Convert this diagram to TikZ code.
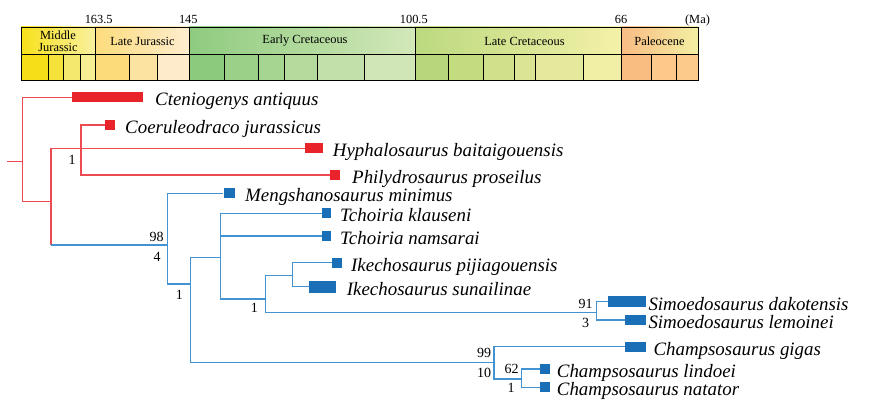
\documentclass[tikz,border=0pt]{standalone}
\usepackage{fontspec}
\setmainfont{Liberation Serif}
\usetikzlibrary{positioning}

\definecolor{cladered}{HTML}{E8232A}
\definecolor{branchred}{HTML}{EE4A52}
\definecolor{cladeblue}{HTML}{1B6FB6}
\definecolor{branchblue}{HTML}{4393D3}

\tikzset{
  redbr/.style={draw=branchred, line width=1.1pt},
  bluebr/.style={draw=branchblue, line width=1.1pt},
  rangebar/.style={rectangle, inner sep=0pt, anchor=west},
  taxon/.style={anchor=west, inner sep=0pt, font=\fontsize{18.9}{20}\selectfont\itshape,
    text height=17pt, text depth=0pt},
  supportval/.style={inner sep=0pt, font=\fontsize{14}{14}\selectfont},
  periodlabel/.style={inner sep=0pt, align=center, font=\fontsize{12.4}{12}\selectfont},
  agelabel/.style={inner sep=0pt, font=\fontsize{12.4}{12}\selectfont}
}

\begin{document}
\begin{tikzpicture}[x=1pt,y=-1pt]
\useasboundingbox (0,0) rectangle (878,409);

% time scale: stages
\foreach \a/\b/\c in {21/48.3/F7DF18, 48.3/63.3/F5E33C, 63.3/80.7/F5E86E, 80.7/95.7/F7EF94,
  95.7/129.3/FBDB7A, 129.3/157.7/FDE3A2, 157.7/189.3/FEEBCB,
  189.3/224.7/8CCA7E, 224.7/258.3/9AD088, 258.3/284/A6D491, 284/317.7/B4DA9E,
  317.7/364.3/C2E0AA, 364.3/415/D0E6B6,
  415/448.3/B8D77A, 448.3/483.3/C4DC80, 483.3/514.7/D0E08B, 514.7/535.3/DAE494,
  535.3/583.3/E5E99E, 583.3/621.3/F1EFA6,
  621.3/651.3/F9BD82, 651.3/676.7/FCC98A, 676.7/698.3/FCCB8C}{
  \definecolor{stagecol}{HTML}{\c}
  \fill[stagecol] (\a,54) rectangle (\b,80);
  \draw[line width=0.9pt] (\a,54) -- (\a,80);
}
% time scale: periods
\foreach \a/\b/\l/\r in {21/95.7/F8E11B/F9F0A0, 95.7/189.3/FCDC7C/FEEDCF,
  189.3/415/8ECB7F/D3E8B9, 415/621.3/BBD97F/F4F1A8, 621.3/698.3/F9BC84/F3EFA2}{
  \definecolor{lcol}{HTML}{\l}
  \definecolor{rcol}{HTML}{\r}
  \shade[left color=lcol, right color=rcol] (\a,27) rectangle (\b,54);
  \draw[line width=0.9pt] (\a,27) -- (\a,54);
}
\draw[line width=0.9pt] (21,27) rectangle (698.3,80);
\draw[line width=0.9pt] (21,54) -- (698.3,54);

\node[periodlabel] (mjur) at (58,41) {Middle\\Jurassic};
\node[periodlabel] (ljur) at (142.5,41) {Late Jurassic};
\node[periodlabel] (ecre) at (305,41) {Early Cretaceous};
\node[periodlabel] (lcre) at (524.5,41) {Late Cretaceous};
\node[periodlabel] (pale) at (659.5,41) {Paleocene};

\node[agelabel] (t1635) at (98.7,19) {163.5};
\node[agelabel] (t145) at (188.3,19) {145};
\node[agelabel] (t1005) at (413.8,19) {100.5};
\node[agelabel] (t66) at (621,19) {66};
\node[agelabel] (tma) at (697.5,21) {(Ma)};

% internal nodes
\coordinate (stub) at (7,161.7);
\coordinate (r0) at (22.7,161.7);
\coordinate (r1) at (51,201.7);
\coordinate (r2) at (81,148.5);
\coordinate (b0) at (167.3,245);
\coordinate (b1) at (190.7,284);
\coordinate (b2) at (220.7,257.3);
\coordinate (b3) at (265.3,299);
\coordinate (b4) at (292.3,275.7);
\coordinate (b5) at (494,362.3);
\coordinate (b6) at (596.7,312.7);
\coordinate (b7) at (521.7,379);

% ranges and taxa
\foreach \n/\a/\b/\y/\h/\c/\g/\t in {
  cten/71.7/143/97.3/10/cladered/12/Cteniogenys antiquus,
  coer/105/115/125/10/cladered/10/Coeruleodraco jurassicus,
  hyph/305/322.7/148.5/10/cladered/10/Hyphalosaurus baitaigouensis,
  phil/330/340/175/10/cladered/12/Philydrosaurus proseilus,
  meng/223.3/234.3/193.3/10/cladeblue/10.7/Mengshanosaurus minimus,
  tkla/321.7/330.7/213.3/10/cladeblue/9.3/Tchoiria klauseni,
  tnam/321.7/330.7/236/10/cladeblue/9.3/Tchoiria namsarai,
  ipij/331.7/341.7/262.7/10/cladeblue/9.3/Ikechosaurus pijiagouensis,
  isun/309/335.7/286.7/12/cladeblue/11/Ikechosaurus sunailinae,
  sdak/607.7/645.7/301.7/10.5/cladeblue/2.6/Simoedosaurus dakotensis,
  slem/625/645.7/320/10/cladeblue/2.6/Simoedosaurus lemoinei,
  cgig/625/645.7/346.7/10/cladeblue/7.6/Champsosaurus gigas,
  clin/540/550/369/10/cladeblue/6.7/Champsosaurus lindoei,
  cnat/540/550/387.3/10/cladeblue/6.7/Champsosaurus natator}{
  \pgfmathsetmacro\w{\b-\a}
  \node[rangebar, fill=\c, minimum width=\w pt, minimum height=\h pt] (\n) at (\a,\y) {};
  \node[taxon] (\n-l) at (\b+\g,\y) {\t};
}

% branches
\draw[redbr] (stub) -- (r0);
\draw[redbr] (r0) |- (cten.west);
\draw[redbr] (r0) |- (r1);
\draw[redbr] (r1) |- (r2) -- (hyph.west);
\draw[redbr] (r2) |- (coer.west);
\draw[redbr] (r2) |- (phil.west);
\draw[redbr] (r1) -- (r1 |- b0);
\draw[bluebr] (r1 |- b0) -- (b0);
\draw[bluebr] (b0) |- (meng.west);
\draw[bluebr] (b0) |- (b1);
\draw[bluebr] (b1) |- (b2);
\draw[bluebr] (b1) |- (b5);
\draw[bluebr] (b2) |- (tkla.west);
\draw[bluebr] (b2) |- (tnam.west);
\draw[bluebr] (b2) |- (b3);
\draw[bluebr] (b3) |- (b4);
\draw[bluebr] (b3) |- (b6);
\draw[bluebr] (b4) |- (ipij.west);
\draw[bluebr] (b4) |- (isun.west);
\draw[bluebr] (b6) |- (sdak.west);
\draw[bluebr] (b6) |- (slem.west);
\draw[bluebr] (b5) |- (cgig.west);
\draw[bluebr] (b5) |- (b7);
\draw[bluebr] (b7) |- (clin.west);
\draw[bluebr] (b7) |- (cnat.west);

% support values
\foreach \n/\x/\y/\t in {sr2/72/160/1, s98/156.7/237.3/98, s4/157/256.7/4,
  sb1/179.3/295/1, sb3/254.3/307.7/1, s91/585.7/304/91, s3/585.7/322.7/3,
  s99/484/352.7/99, s10/484/372.7/10, s62/511.7/369.3/62, sb7/511/388/1}{
  \node[supportval] (\n) at (\x,\y) {\t};
}
\end{tikzpicture}
\end{document}
